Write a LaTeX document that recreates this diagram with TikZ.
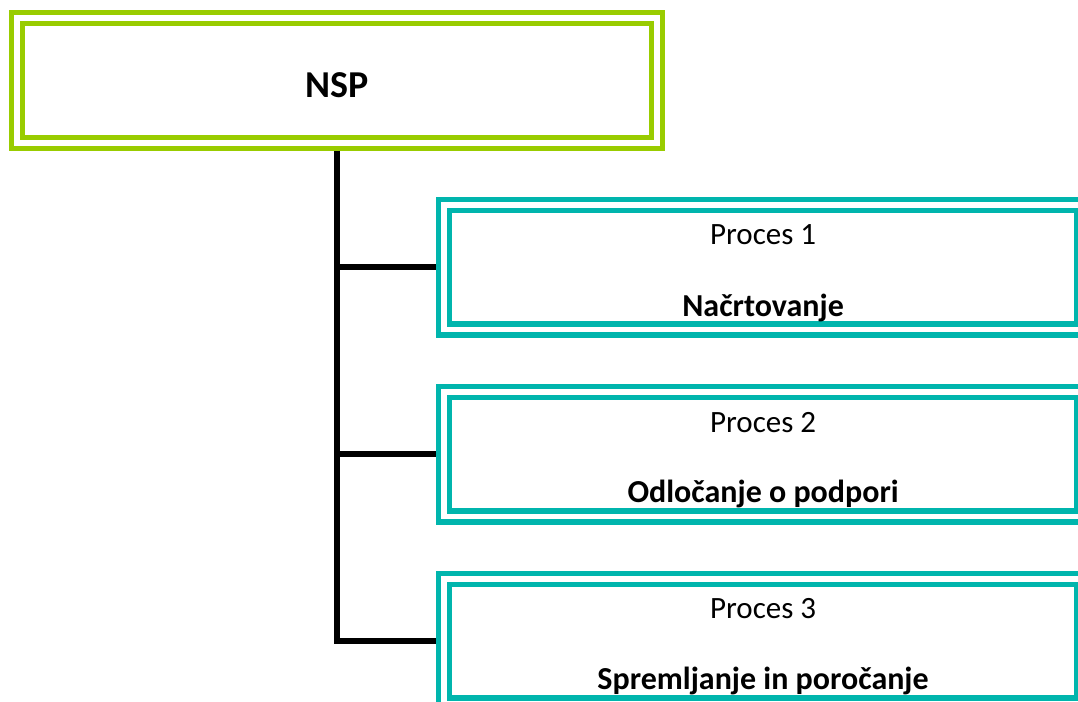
\documentclass[tikz,border=0pt]{standalone}
\usepackage{fontspec}
\setmainfont{Carlito}
\definecolor{nspgreen}{RGB}{153,204,0}
\definecolor{procteal}{RGB}{0,181,173}
\begin{document}
\begin{tikzpicture}[x=1pt,y=-1pt,
  nspbox/.style={draw=nspgreen, line width=5pt, double=white, double distance=6pt,
    rectangle, inner sep=0pt, outer sep=8pt, minimum width=640pt, minimum height=124.5pt},
  procbox/.style={draw=procteal, line width=5.5pt, double=white, double distance=5.5pt,
    rectangle, inner sep=0pt, outer sep=8.25pt, minimum width=637.75pt, minimum height=124.5pt},
  nsptitle/.style={font=\fontsize{38}{44}\selectfont\bfseries, anchor=base, inner sep=0pt},
  ttl/.style={font=\fontsize{32}{38}\selectfont\bfseries, anchor=base, inner sep=0pt},
  lbl/.style={font=\fontsize{31}{36}\selectfont, anchor=base, inner sep=0pt},
  conn/.style={draw=black, line width=6pt}
]
\useasboundingbox (0,0) rectangle (1078,701);
\node[nspbox] (nsp) at (337,80.25) {};
\node[nsptitle] (nsptext) at ([yshift=-16.75pt]nsp.center) {NSP};

\node[procbox] (p1) at (763.1,267.25) {};
\node[procbox] (p2) at (763.1,454.25) {};
\node[procbox] (p3) at (763.1,641.25) {};

\node[lbl] (l1) at ([yshift=23.25pt]p1.center) {Proces 1};
\node[ttl] (t1) at ([yshift=-49pt]p1.center) {Načrtovanje};
\node[lbl] (l2) at ([yshift=22.25pt]p2.center) {Proces 2};
\node[ttl] (t2) at ([yshift=-48pt]p2.center) {Odločanje o podpori};
\node[lbl] (l3) at ([yshift=23.25pt]p3.center) {Proces 3};
\node[ttl] (t3) at ([yshift=-48pt]p3.center) {Spremljanje in poročanje};

\draw[conn] (nsp.south) |- (p3.west);
\draw[conn] (nsp.south |- p1.west) -- (p1.west);
\draw[conn] (nsp.south |- p2.west) -- (p2.west);
\end{tikzpicture}
\end{document}
